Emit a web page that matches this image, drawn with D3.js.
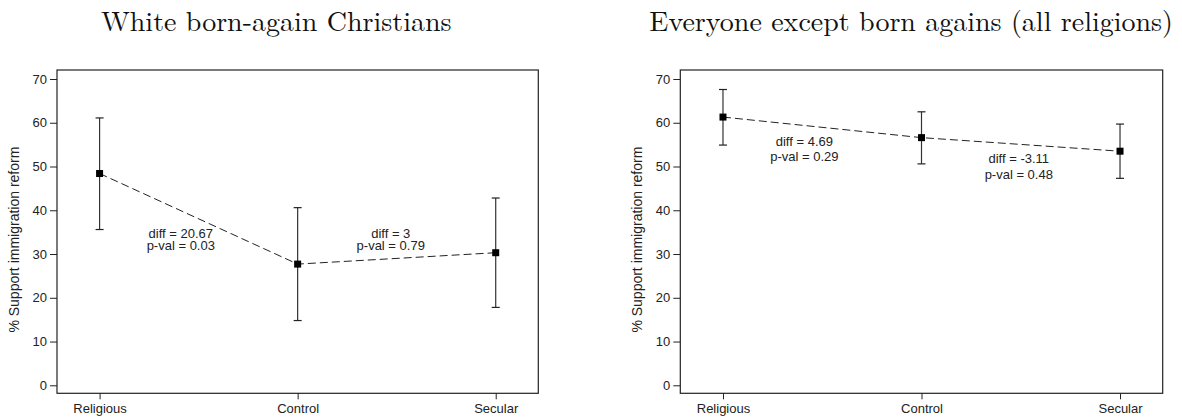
<!DOCTYPE html>
<html>
<head>
<meta charset="utf-8">
<script src="https://cdn.jsdelivr.net/npm/d3@7"></script>
<style>
  body { margin: 0; background: #fff; }
  svg { display: block; }
  .tick text { font-family: "Liberation Sans", Arial, sans-serif; font-size: 13px; fill: #222; }
  .tick line { stroke: #222; }
  .domain { display: none; }
  .titulo { font-family: "Latin Modern Roman", "CMU Serif", "Liberation Serif", serif; font-size: 28px; fill: #111; }
  .labels { font-family: "Liberation Sans", Arial, sans-serif; font-size: 14px; fill: #222; }
  .anot { font-family: "Liberation Sans", Arial, sans-serif; font-size: 13px; fill: #222; }
</style>
</head>
<body>
<div id="graf"></div>
<script>
// datos
const categorias = ["Religious", "Control", "Secular"]
const yTicks = [0, 10, 20, 30, 40, 50, 60, 70]

const titulos = ["White born-again Christians", "Everyone except born agains (all religions)"]

const mediaBorn = [48.4, 27.7, 30.3]
const bajoBorn = [35.6, 14.8, 17.8]
const altoBorn = [61.1, 40.6, 42.8]

const mediaResto = [61.3, 56.6, 53.5]
const bajoResto = [54.9, 50.6, 47.3]
const altoResto = [67.6, 62.5, 59.7]

// anotaciones: [entre categoria i e i+1, fraccion, valor y linea 1, valor y linea 2]
const textosBorn = [["diff = 20.67", "p-val = 0.03"], ["diff = 3", "p-val = 0.79"]]
const anclasBorn = [[0, 0.41, 34.8, 31.9], [1, 0.47, 34.8, 31.9]]
const textosResto = [["diff = 4.69", "p-val = 0.29"], ["diff = -3.11", "p-val = 0.48"]]
const anclasResto = [[0, 0.41, 55.8, 52.2], [1, 0.49, 51.8, 48.2]]

const anchoTotal = 1182
const altoTotal = 418

const svg = d3.select("#graf")
  .append("svg")
  .attr("width", anchoTotal)
  .attr("height", altoTotal)

const panel = (x0, x1, titulo, tx, anchor, media, bajo, alto, textos, anclas) => {
  const top = 70, bottom = 393.3
  const g = svg.append("g")

  const x = d3.scalePoint().domain(categorias).range([x0, x1]).padding(0.215)
  const y = d3.scaleLinear().domain([0, 70]).range([385.3, 79])
  const paso = x.step()

  // titulo
  svg.append("text")
    .attr("class", "titulo")
    .attr("x", tx)
    .attr("y", 31)
    .attr("text-anchor", anchor)
    .text(titulo)

  // marco
  g.append("rect")
    .attr("x", x0)
    .attr("y", top)
    .attr("width", x1 - x0)
    .attr("height", bottom - top)
    .attr("fill", "none")
    .attr("stroke", "#222")
    .attr("stroke-width", 1.2)

  g.append("g")
    .attr("transform", `translate(${x0}, 0)`)
    .call(d3.axisLeft(y).tickValues(yTicks).tickSize(7).tickPadding(3))

  g.append("g")
    .attr("transform", `translate(0, ${bottom})`)
    .call(d3.axisBottom(x).tickSize(6).tickPadding(4))

  g.append("text")
    .attr("transform", `translate(${x0 - 38}, ${(top + bottom) / 2 + 8}) rotate(-90)`)
    .attr("text-anchor", "middle")
    .attr("class", "labels")
    .text("% Support immigration reform")

  // linea discontinua
  const linea = d3.line()
    .x((d, i) => x(categorias[i]))
    .y((d) => y(d))
  g.append("path")
    .datum(media)
    .attr("d", linea)
    .attr("fill", "none")
    .attr("stroke", "#222")
    .attr("stroke-width", 1)
    .attr("stroke-dasharray", "8,4")

  // barras de error
  categorias.forEach((c, i) => {
    const cx = x(c)
    g.append("line")
      .attr("x1", cx).attr("x2", cx)
      .attr("y1", y(bajo[i])).attr("y2", y(alto[i]))
      .attr("stroke", "#333").attr("stroke-width", 1.2)
    ;[bajo[i], alto[i]].forEach((v) => {
      g.append("line")
        .attr("x1", cx - 4).attr("x2", cx + 4)
        .attr("y1", y(v)).attr("y2", y(v))
        .attr("stroke", "#222").attr("stroke-width", 1.2)
    })
  })

  g.selectAll("rect.punto")
    .data(media)
    .enter()
    .append("rect")
    .attr("class", "punto")
    .attr("x", (d, i) => x(categorias[i]) - 3.5)
    .attr("y", (d) => y(d) - 3.5)
    .attr("width", 7)
    .attr("height", 7)
    .attr("fill", "#000")

  anclas.forEach((a, k) => {
    const ax = x(categorias[a[0]]) + a[1] * paso
    textos[k].forEach((t, j) => {
      g.append("text")
        .attr("class", "anot")
        .attr("x", ax)
        .attr("y", y(a[2 + j]))
        .attr("dy", "0.35em")
        .attr("text-anchor", "middle")
        .text(t)
    })
  })
}

panel(57, 538.3, titulos[0], 101, "start", mediaBorn, bajoBorn, altoBorn, textosBorn, anclasBorn)
panel(680.3, 1162.7, titulos[1], 1173, "end", mediaResto, bajoResto, altoResto, textosResto, anclasResto)
</script>
</body>
</html>
